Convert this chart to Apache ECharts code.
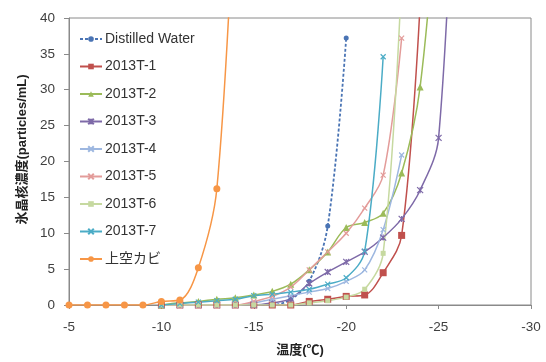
<!DOCTYPE html>
<html>
<head>
<meta charset="utf-8">
<script src="https://cdn.jsdelivr.net/npm/echarts@6/dist/echarts.min.js"></script>
<style>
  html, body { margin: 0; padding: 0; background: #fff; }
  #chart { width: 546px; height: 362px; }
</style>
</head>
<body>
<div id="chart"></div>
<script>
// Temperatures (°C) shared by every series; null = not measured
const temps = [-5, -6, -7, -8, -9, -10, -11, -12, -13, -14, -15, -16, -17, -18, -19, -20, -21, -22, -23, -24, -25, -26];

const distilledWater = [null, null, null, null, null, 0, 0, 0, 0, 0, 0, 0, 0.8, 3.3, 11, 37.2, null, null, null, null, null, null];
const t2013_1 = [null, null, null, null, null, 0, 0, 0, 0, 0, 0, 0, 0, 0.5, 0.8, 1.2, 1.4, 4.5, 9.7, 42, null, null];
const t2013_2 = [null, null, null, null, null, 0, 0.3, 0.5, 0.8, 1.0, 1.4, 1.9, 2.9, 4.9, 7.4, 10.8, 11.5, 12.8, 18.4, 30.4, 60, null];
const t2013_3 = [null, null, null, null, null, 0, 0, 0, 0, 0, 0, 0.3, 0.9, 3.0, 4.6, 6.0, 7.4, 9.4, 12, 16, 23.3, 75];
const t2013_4 = [null, null, null, null, null, 0, 0, 0, 0, 0, 0.3, 0.8, 1.3, 1.8, 2.3, 3.3, 4.9, 10.5, 20.9, null, null, null];
const t2013_5 = [null, null, null, null, null, 0, 0, 0, 0, 0, 0.5, 1.2, 2.5, 4.9, 7.4, 10, 13.5, 18.1, 37.2, null, null, null];
const t2013_6 = [null, null, null, null, null, 0, 0, 0, 0, 0, 0, 0, 0, 0.3, 0.6, 1.1, 2.2, 7.2, 46, null, null, null];
const t2013_7 = [null, null, null, null, null, 0, 0.2, 0.4, 0.6, 0.8, 1.3, 1.5, 1.8, 2.2, 2.9, 3.8, 7.5, 34.6, null, null, null, null];
const upperAirMold = [0, 0, 0, 0, 0, 0.5, 0.7, 5.2, 16.2, 60, null, null, null, null, null, null, null, null, null, null, null, null];

const xTicks = [-30, -25, -20, -15, -10, -5];
const yTicks = [0, 5, 10, 15, 20, 25, 30, 35, 40];

// pair each value with its temperature, dropping gaps
function pairs(values) {
  const out = [];
  values.forEach((v, i) => { if (v !== null) out.push([temps[i], v]); });
  return out;
}

const FONT = '"Liberation Sans", "Noto Sans CJK JP", sans-serif';
const crossMark = 'path://M0,0L10,10M10,0L0,10';
const starMark = 'path://M0,0L10,10M10,0L0,10M5,0L5,10';
const dashMark = 'path://M0,4L10,4L10,6L0,6Z';

function lineSeries(name, values, color, symbol, size, extra) {
  const stroked = symbol === crossMark || symbol === starMark;
  return Object.assign({
    name: name,
    type: 'line',
    data: pairs(values),
    smooth: 0.35,
    symbol: symbol,
    symbolSize: size,
    showAllSymbol: true,
    clip: true,
    lineStyle: { color: color, width: 1.5 },
    itemStyle: stroked
      ? { color: color, borderColor: color, borderWidth: 1.2 }
      : { color: color },
    emphasis: { disabled: true },
    z: 2
  }, extra || {});
}

const chart = echarts.init(document.getElementById('chart'), null, { renderer: 'canvas' });

chart.setOption({
  animation: false,
  textStyle: { fontFamily: FONT },
  grid: {
    left: 69, right: 15, top: 18, bottom: 51,
    show: true, borderColor: '#8a8a8a', borderWidth: 1, backgroundColor: 'transparent'
  },
  legend: {
    orient: 'vertical',
    left: 74, top: 27,
    itemWidth: 22, itemHeight: 7, itemGap: 13.5,
    textStyle: { fontSize: 14, color: '#333', fontFamily: FONT, padding: [0, 0, 0, -2] },
    data: ['Distilled Water', '2013T-1', '2013T-2', '2013T-3', '2013T-4', '2013T-5', '2013T-6', '2013T-7', '上空カビ']
  },
  xAxis: {
    type: 'value',
    inverse: true,
    min: xTicks[0], max: xTicks[xTicks.length - 1], interval: 5,
    name: '温度(℃)',
    nameLocation: 'middle',
    nameGap: 39,
    nameTextStyle: { fontSize: 13, fontWeight: 'bold', color: '#222', fontFamily: FONT },
    axisLine: { onZero: false, lineStyle: { color: '#8a8a8a' } },
    axisTick: { show: true, length: 4, lineStyle: { color: '#8a8a8a' } },
    axisLabel: { fontSize: 13.5, color: '#404040', margin: 16 },
    splitLine: { show: false }
  },
  yAxis: {
    type: 'value',
    min: yTicks[0], max: yTicks[yTicks.length - 1], interval: 5,
    name: '氷晶核濃度(particles/mL)',
    nameLocation: 'middle',
    nameGap: 39,
    nameRotate: 90,
    nameTextStyle: { fontSize: 13, fontWeight: 'bold', color: '#222', fontFamily: FONT, padding: [0, 0, 0, 24] },
    axisLine: { show: true, onZero: false, lineStyle: { color: '#8a8a8a' } },
    axisTick: { show: true, length: 5, lineStyle: { color: '#8a8a8a' } },
    axisLabel: { fontSize: 13.5, color: '#404040', margin: 14 },
    splitLine: { show: false }
  },
  series: [
    lineSeries('Distilled Water', distilledWater, '#4a74b4', 'circle', 5, {
      lineStyle: { color: '#4a74b4', width: 1.8, type: [3, 2] }
    }),
    lineSeries('2013T-1', t2013_1, '#c0504d', 'rect', 7),
    lineSeries('2013T-2', t2013_2, '#9bbb59', 'triangle', 7),
    lineSeries('2013T-3', t2013_3, '#7e6aa8', starMark, 6),
    lineSeries('2013T-4', t2013_4, '#9db7e0', crossMark, 5),
    lineSeries('2013T-5', t2013_5, '#e39c9a', crossMark, 5),
    lineSeries('2013T-6', t2013_6, '#c6d9a0', dashMark, 5),
    lineSeries('2013T-7', t2013_7, '#4bacc6', crossMark, 5),
    lineSeries('上空カビ', upperAirMold, '#f79646', 'circle', 7)
  ]
});
</script>
</body>
</html>
